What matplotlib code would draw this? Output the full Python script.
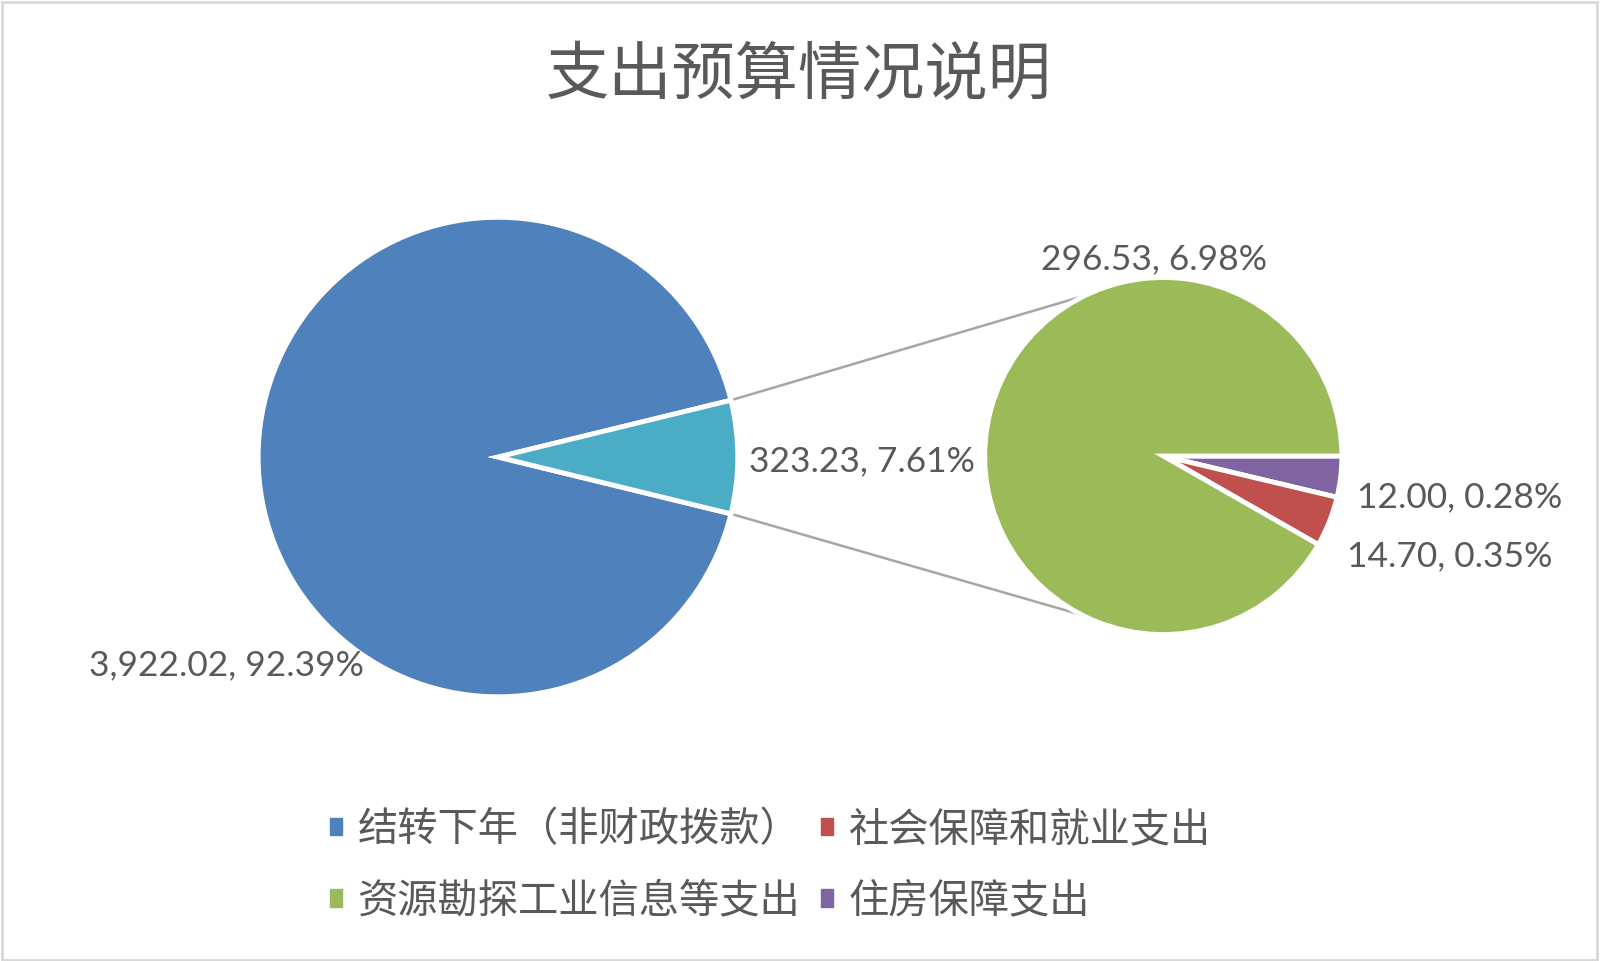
import math
import matplotlib
matplotlib.use("Agg")
import matplotlib.pyplot as plt
from matplotlib.patches import Patch, Rectangle

plt.rcParams['font.family'] = ['Noto Sans CJK SC', 'DejaVu Sans']

# data
main_labels = ["结转下年（非财政拨款）", "其他"]
main_values = [3922.02, 323.23]
sub_labels = ["住房保障支出", "社会保障和就业支出", "资源勘探工业信息等支出"]
sub_values = [12.00, 14.70, 296.53]
title = "支出预算情况说明"

BLUE, CYAN = "#4F81BD", "#4BACC6"
PURPLE, RED, GREEN = "#8064A2", "#C0504D", "#9BBB59"
TXT = "#595959"

W, H = 1568, 942
fig = plt.figure(figsize=(16, 9.61), dpi=100)
ax = fig.add_axes([0, 0, 1, 1])

total = sum(main_values)
half = 180.0 * main_values[1] / total

c1, r1 = (488, H - 448), 235
c2, r2 = (1140, H - 447), 175

w1, _ = ax.pie(main_values, colors=[BLUE, CYAN], startangle=half,
               center=c1, radius=r1,
               wedgeprops=dict(edgecolor="white", linewidth=3.5))
w2, _ = ax.pie(sub_values, colors=[PURPLE, RED, GREEN], startangle=0,
               counterclock=False, center=c2, radius=r2,
               wedgeprops=dict(edgecolor="white", linewidth=3.5))

# connector lines
for s, a2 in [(1, 116), (-1, -117)]:
    a = math.radians(s * half)
    b = math.radians(a2)
    ax.plot([c1[0] + r1 * math.cos(a), c2[0] + r2 * math.cos(b)],
            [c1[1] + r1 * math.sin(a), c2[1] + r2 * math.sin(b)],
            color="#A6A6A6", lw=1.8, zorder=0)

ax.set_xlim(0, W)
ax.set_ylim(0, H)
ax.set_aspect("auto")
ax.axis("off")

numfont = ['Lato', 'DejaVu Sans']
pct = lambda v: 100.0 * v / total
labels_txt = [
    ("{:,.2f}, {:.2f}%".format(main_values[0], pct(main_values[0])), 222, 652),
    ("{:,.2f}, {:.2f}%".format(main_values[1], pct(main_values[1])), 845, 452),
    ("{:,.2f}, {:.2f}%".format(sub_values[2], pct(sub_values[2])), 1131, 254),
    ("{:,.2f}, {:.2f}%".format(sub_values[0], pct(sub_values[0])), 1430, 487),
    ("{:,.2f}, {:.2f}%".format(sub_values[1], pct(sub_values[1])), 1421, 545),
]
for t, x, y in labels_txt:
    ax.text(x, H - y, t, ha="center", va="center", fontsize=25.5,
            color=TXT, family=numfont)

ax.text(783, H - 75, title, ha="center", va="center", fontsize=45.5,
        color=TXT, fontweight="light")

handles = [Patch(color=BLUE), Patch(color=GREEN), Patch(color=RED), Patch(color=PURPLE)]
names = [main_labels[0], sub_labels[2], sub_labels[1], sub_labels[0]]
leg = ax.legend(handles, names, ncol=2, loc="center",
                bbox_to_anchor=(755 / W, 1 - 848 / H), frameon=False,
                fontsize=29, handlelength=0.3, handleheight=0.3,
                handletextpad=0.4, columnspacing=0.5, labelspacing=0.75,
                prop=dict(size=29, weight="light"))
for t in leg.get_texts():
    t.set_color(TXT)

fig.patches.append(Rectangle((0.001, 0.001), 0.997, 0.997, transform=fig.transFigure,
                             fill=False, edgecolor="#D9D9D9", lw=2))

fig.savefig("out.png", dpi=100, facecolor="white")
